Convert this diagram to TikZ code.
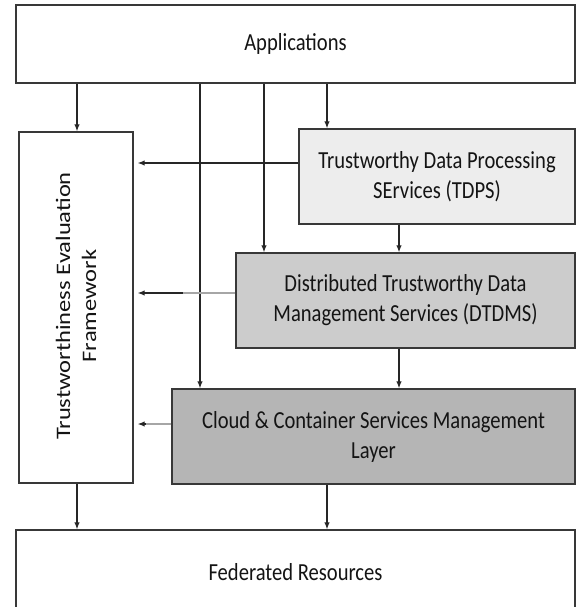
\documentclass[tikz,border=0pt]{standalone}
\usepackage{fontspec}
\usepackage{graphicx}
\setmainfont{Carlito}[FakeStretch=0.84]
\newfontfamily\rotfont{Carlito}
\usetikzlibrary{arrows.meta}
\begin{document}
\begin{tikzpicture}[x=1pt,y=-1pt,
  box/.style={draw=black!78, line width=1.4pt, inner sep=0pt, align=center,
    font=\fontsize{24.5}{30}\selectfont, text=black!92},
  arr/.style={draw=black!85, line width=1.2pt, -{Latex[length=7pt,width=5.5pt]}},
  lightseg/.style={draw=black!35, line width=1.3pt}
]
\useasboundingbox (0,0) rectangle (576,607);
\clip (0,0) rectangle (576,607);
\fill[white] (0,0) rectangle (576,607);

% boxes
\node[box, minimum width=559pt, minimum height=78pt] (apps) at (295.5,44) {\raisebox{-2pt}{Applications}};
\node[box, minimum width=114pt, minimum height=351pt] (tef) at (76,307.5) {};
\node[box, fill=black!7, minimum width=276pt, minimum height=95pt] (tdps) at (437,176.5)
  {\raisebox{-3pt}{Trustworthy Data Processing}\\\raisebox{-3pt}{SErvices (TDPS)}};
\node[box, fill=black!20, minimum width=339pt, minimum height=95pt] (dtdms) at (405.5,300.5)
  {Distributed Trustworthy Data\\Management Services (DTDMS)};
\node[box, fill=black!29, minimum width=403pt, minimum height=95pt] (cloud) at (373.5,436.5)
  {Cloud \& Container Services Management\\Layer};
\node[box, minimum width=559pt, minimum height=84pt] (fed) at (295.5,572) {Federated Resources};

% rotated label of the framework box
\node[rotate=90, inner sep=0pt, text=black!92, font=\rotfont\fontsize{24.5}{31}\selectfont]
  (teft) at (78,306)
  {\scalebox{1}[0.84]{\begin{tabular}{@{}c@{}}Trustworthiness Evaluation\\Framework\end{tabular}}};

% helper coordinates
\coordinate (va) at (77,0);
\coordinate (vb) at (200,0);
\coordinate (vc) at (264,0);
\coordinate (vd) at (327,0);
\coordinate (ve) at (399,0);
\coordinate (h1) at (0,163);
\coordinate (h2) at (0,293);
\coordinate (h3) at (0,424);
\coordinate (g2) at (183,293);
\coordinate (g3) at (146,424);

% vertical connectors
\draw[arr] (apps.south -| va) -- (tef.north -| va);
\draw[arr] (apps.south -| vb) -- (cloud.north -| vb);
\draw[arr] (apps.south -| vc) -- (dtdms.north -| vc);
\draw[arr] (apps.south -| vd) -- (tdps.north -| vd);
\draw[arr] (tdps.south -| ve) -- (dtdms.north -| ve);
\draw[arr] (dtdms.south -| ve) -- (cloud.north -| ve);
\draw[arr] (tef.south -| va) -- (fed.north -| va);
\draw[arr] (cloud.south -| vd) -- (fed.north -| vd);

% horizontal connectors to the framework
\draw[arr, shorten >=4pt] (tdps.west |- h1) -- (tef.east |- h1);
\draw[arr, shorten >=4pt] (dtdms.west |- h2) -- (tef.east |- h2);
\draw[lightseg] (dtdms.west |- h2) -- (g2);
\draw[arr, shorten >=4pt] (cloud.west |- h3) -- (tef.east |- h3);
\draw[lightseg] (cloud.west |- h3) -- (g3);
\end{tikzpicture}
\end{document}
